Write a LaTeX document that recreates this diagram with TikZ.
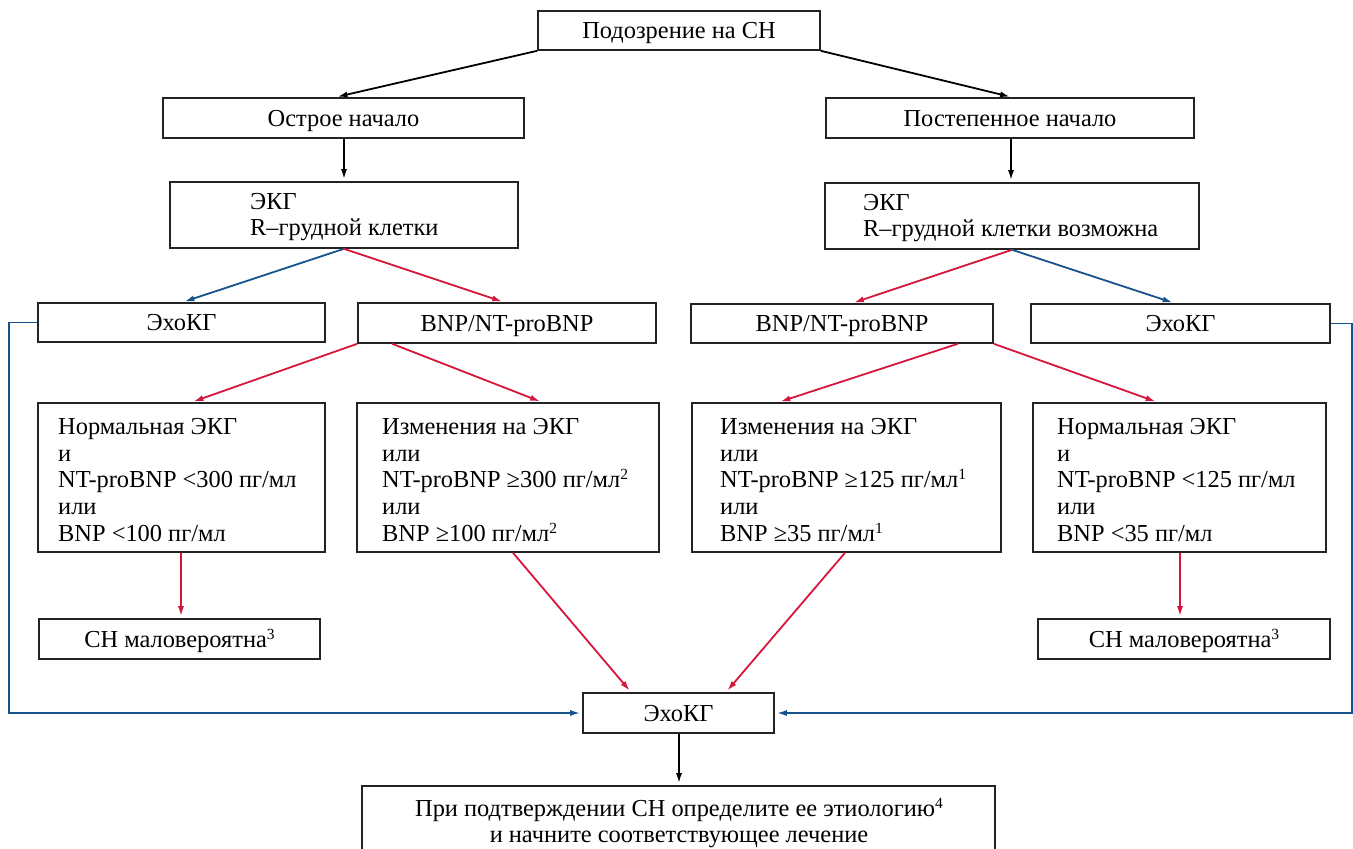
\documentclass[tikz,border=0pt]{standalone}
\usepackage{fontspec}
\setmainfont{Liberation Serif}
\usetikzlibrary{arrows.meta}
\definecolor{cred}{RGB}{214,22,58}
\definecolor{cblue}{RGB}{22,82,140}
\definecolor{cbox}{RGB}{35,35,35}
\newcommand{\bx}[6]{\node[box, minimum width={#4-#2}, minimum height={#5-#3}] (#1) at ({(#2+#4)/2},{(#3+#5)/2}) {#6};}
\newcommand{\fnm}[1]{\raisebox{8pt}{\fontsize{15.5}{15.5}\selectfont #1}}
\begin{document}
\begin{tikzpicture}[x=1pt,y=-1pt,
  every node/.style={font=\fontsize{24.4}{26.7}\selectfont},
  box/.style={draw=cbox, line width=1.6pt, inner sep=0pt, fill=white, text height=16pt, text depth=0pt},
  txt/.style={align=left, inner sep=0pt, anchor=west},
  ctxt/.style={align=center, inner sep=0pt},
  arr/.style={line width=1.8pt, -{Latex[length=10pt,width=6pt]}, shorten >=2pt},
  blk/.style={arr, draw=black},
  rd/.style={arr, draw=cred},
  bl/.style={arr, draw=cblue}]
\useasboundingbox (0,0) rectangle (1353,849);
\clip (0,0) rectangle (1353,849);
% row 1
\bx{top}{538}{11}{820}{50}{Подозрение на СН}
% row 2
\bx{ost}{163}{98}{524}{138}{Острое начало}
\bx{post}{826}{98}{1194}{138}{Постепенное начало}
% row 3
\bx{ekgL}{170}{182}{518}{248}{}
\node[txt] (ekgLt) at (250,217) {ЭКГ\\R–грудной клетки};
\bx{ekgR}{825}{183}{1199}{249}{}
\node[txt] (ekgRt) at (863,218) {ЭКГ\\R–грудной клетки возможна};
% row 4
\bx{ekoL}{38}{303}{325}{342}{ЭхоКГ}
\bx{bnpL}{358}{303}{656}{343}{BNP/NT-proBNP}
\bx{bnpR}{691}{304}{993}{343}{BNP/NT-proBNP}
\bx{ekoR}{1031}{304}{1330}{343}{ЭхоКГ}
% row 5
\bx{c1}{38}{403}{325}{552}{}
\node[txt] (c1t) at (58,480) {Нормальная ЭКГ\\и\\NT-proBNP <300 пг/мл\\или\\BNP <100 пг/мл};
\bx{c2}{357}{403}{659}{552}{}
\node[txt] (c2t) at (382,480) {Изменения на ЭКГ\\или\\NT-proBNP ≥300 пг/мл\fnm{2}\\или\\BNP ≥100 пг/мл\fnm{2}};
\bx{c3}{692}{403}{1001}{552}{}
\node[txt] (c3t) at (720,480) {Изменения на ЭКГ\\или\\NT-proBNP ≥125 пг/мл\fnm{1}\\или\\BNP ≥35 пг/мл\fnm{1}};
\bx{c4}{1033}{403}{1326}{552}{}
\node[txt] (c4t) at (1057,480) {Нормальная ЭКГ\\и\\NT-proBNP <125 пг/мл\\или\\BNP <35 пг/мл};
% row 6
\bx{unL}{39}{619}{320}{659}{СН маловероятна\fnm{3}}
\bx{unR}{1038}{619}{1330}{659}{СН маловероятна\fnm{3}}
% row 7
\bx{eko}{583}{693}{774}{733}{ЭхоКГ}
% row 8
\bx{fin}{362}{786}{995}{900}{}
\node[ctxt] (fint) at (679,823) {При подтверждении СН определите ее этиологию\fnm{4}\\и начните соответствующее лечение};
% connectors
\draw[blk] (top.south west) -- ([xshift=-8]ost.north);
\draw[blk] (top.south east) -- ([xshift=2]post.north);
\draw[blk] ([xshift=0.5]ost.south) -- ([xshift=0.5]ost.south |- ekgL.north);
\draw[blk] ([xshift=1]post.south) -- ([xshift=1]post.south |- ekgR.north);
\draw[bl] (ekgL.south) -- ([xshift=1]ekoL.north);
\draw[rd] (ekgL.south) -- ([xshift=-3]bnpL.north);
\draw[rd] (ekgR.south) -- ([xshift=10]bnpR.north);
\draw[bl] (ekgR.south) -- ([xshift=-6]ekoR.north);
\draw[rd] (bnpL.south west) -- ([xshift=10]c1.north);
\draw[rd] ([xshift=35]bnpL.south west) -- ([xshift=34]c2.north);
\draw[rd] ([xshift=-36]bnpR.south east) -- ([xshift=-68]c3.north);
\draw[rd] (bnpR.south east) -- ([xshift=-22]c4.north);
\draw[rd] ([xshift=-0.5]c1.south) -- ([xshift=-0.5]c1.south |- unL.north);
\draw[rd] ([xshift=0.5]c4.south) -- ([xshift=0.5]c4.south |- unR.north);
\draw[rd] ([xshift=5]c2.south) -- ([xshift=-47.5]eko.north);
\draw[rd] ([xshift=-1.5]c3.south) -- ([xshift=47.5]eko.north);
\draw[bl] (ekoL.west) -- ++(-28,0) |- (eko.west);
\draw[bl] (ekoR.east) -- ++(21,0) |- (eko.east);
\draw[blk] ([xshift=0.5]eko.south) -- ([xshift=0.5]eko.south |- fin.north);
\end{tikzpicture}
\end{document}
